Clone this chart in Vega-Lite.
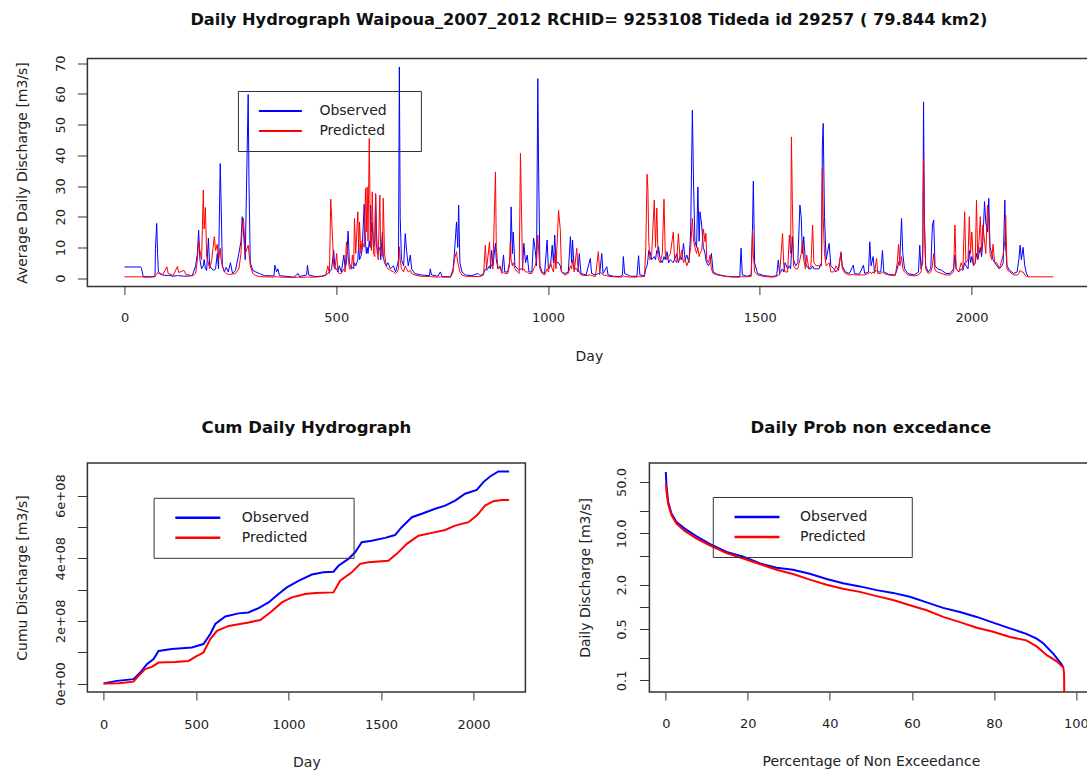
{
  "$schema": "https://vega.github.io/schema/vega-lite/v6.json",
  "background": "white",
  "padding": {"left": 14.4, "top": 11.5, "right": 0, "bottom": 0},
  "spacing": 54.5,
  "resolve": {"scale": {"color": "independent"}, "legend": {"color": "independent"}},
  "config": {
    "font": "DejaVu Sans",
    "view": {"stroke": "#333333", "strokeWidth": 1.5},
    "axis": {"grid": false, "domain": false, "ticks": true, "tickColor": "#333333", "tickWidth": 1, "labelFont": "DejaVu Sans", "labelFontSize": 13, "labelColor": "#222222", "titleFont": "DejaVu Sans", "titleFontSize": 14, "titleFontWeight": "normal", "titleColor": "#222222", "labelOverlap": false, "labelFlush": false, "labelBound": false},
    "title": {"font": "DejaVu Sans", "fontSize": 16.5, "fontWeight": "bold", "color": "#111111", "anchor": "middle"},
    "legend": {"orient": "none", "strokeColor": "#333333", "padding": 13, "symbolType": "stroke", "labelFont": "DejaVu Sans", "labelFontSize": 14, "labelColor": "#222222", "clipHeight": 14, "rowPadding": 6, "labelLimit": 300}
  },
  "vconcat": [
    {
      "width": 1003,
      "height": 228,
      "title": {"text": "Daily Hydrograph Waipoua_2007_2012  RCHID= 9253108 Tideda id 29257 ( 79.844 km2)", "offset": 26.5, "fontSize": 16.2},
      "data": {"values": [
        {"Day":0,"Observed":3.6,"Predicted":0.4},{"Day":38,"Observed":3.6,"Predicted":0.4},{"Day":40,"Observed":3.2,"Predicted":0.4},{"Day":44,"Observed":0.5,"Predicted":0.3},{"Day":60,"Observed":0.4,"Predicted":0.3},{"Day":72,"Observed":0.6,"Predicted":0.4},{"Day":73,"Observed":9.7,"Predicted":0.8},{"Day":76,"Observed":17.8,"Predicted":1.2},{"Day":78,"Observed":8,"Predicted":1.8},{"Day":80,"Observed":2,"Predicted":1.5},{"Day":90,"Observed":1,"Predicted":1},{"Day":100,"Observed":0.8,"Predicted":3.7},{"Day":103,"Observed":0.9,"Predicted":1.5},{"Day":115,"Observed":0.6,"Predicted":0.8},{"Day":125,"Observed":0.8,"Predicted":3.8},{"Day":128,"Observed":0.8,"Predicted":1.8},{"Day":140,"Observed":0.6,"Predicted":2.5},{"Day":145,"Observed":0.6,"Predicted":1.2},{"Day":160,"Observed":0.8,"Predicted":0.7},{"Day":168,"Observed":4,"Predicted":1.5},{"Day":172,"Observed":8,"Predicted":6},{"Day":175,"Observed":15.6,"Predicted":12},{"Day":178,"Observed":6,"Predicted":9},{"Day":182,"Observed":3,"Predicted":6},{"Day":186,"Observed":4,"Predicted":28.7},{"Day":188,"Observed":6,"Predicted":16},{"Day":191,"Observed":3,"Predicted":23},{"Day":194,"Observed":2.5,"Predicted":7},{"Day":198,"Observed":13,"Predicted":5},{"Day":201,"Observed":4,"Predicted":3},{"Day":206,"Observed":3,"Predicted":6},{"Day":212,"Observed":2.5,"Predicted":13.5},{"Day":215,"Observed":3,"Predicted":9},{"Day":219,"Observed":8,"Predicted":11},{"Day":222,"Observed":3,"Predicted":6},{"Day":226,"Observed":37.3,"Predicted":9.7},{"Day":228,"Observed":25.4,"Predicted":6},{"Day":231,"Observed":4,"Predicted":4},{"Day":236,"Observed":2,"Predicted":2},{"Day":240,"Observed":3.5,"Predicted":1.5},{"Day":245,"Observed":2,"Predicted":1.2},{"Day":250,"Observed":5,"Predicted":1.2},{"Day":255,"Observed":1.5,"Predicted":1.3},{"Day":262,"Observed":2.5,"Predicted":1.5},{"Day":270,"Observed":8,"Predicted":3},{"Day":275,"Observed":12,"Predicted":8},{"Day":278,"Observed":20,"Predicted":17},{"Day":281,"Observed":15,"Predicted":19.4},{"Day":285,"Observed":6,"Predicted":8},{"Day":292,"Observed":59.8,"Predicted":10.7},{"Day":294,"Observed":30,"Predicted":8},{"Day":297,"Observed":5,"Predicted":4},{"Day":303,"Observed":2.5,"Predicted":1.5},{"Day":310,"Observed":2,"Predicted":0.8},{"Day":318,"Observed":1.5,"Predicted":0.5},{"Day":330,"Observed":0.8,"Predicted":0.4},{"Day":353,"Observed":0.7,"Predicted":0.3},{"Day":355,"Observed":4.2,"Predicted":0.5},{"Day":359,"Observed":2,"Predicted":0.4},{"Day":362,"Observed":3,"Predicted":0.4},{"Day":366,"Observed":0.8,"Predicted":0.3},{"Day":400,"Observed":0.3,"Predicted":0.2},{"Day":410,"Observed":1.5,"Predicted":0.3},{"Day":413,"Observed":0.5,"Predicted":0.2},{"Day":430,"Observed":1,"Predicted":0.3},{"Day":432,"Observed":4.2,"Predicted":0.4},{"Day":435,"Observed":1,"Predicted":0.3},{"Day":450,"Observed":0.5,"Predicted":0.3},{"Day":465,"Observed":0.6,"Predicted":0.5},{"Day":475,"Observed":1,"Predicted":0.8},{"Day":480,"Observed":1.5,"Predicted":4},{"Day":484,"Observed":2,"Predicted":1.5},{"Day":487,"Observed":2.5,"Predicted":25.7},{"Day":489,"Observed":3,"Predicted":20},{"Day":494,"Observed":9,"Predicted":4},{"Day":497,"Observed":3,"Predicted":3},{"Day":501,"Observed":3,"Predicted":8},{"Day":504,"Observed":2,"Predicted":2},{"Day":507,"Observed":4,"Predicted":1.5},{"Day":512,"Observed":2,"Predicted":1.5},{"Day":518,"Observed":7.5,"Predicted":3},{"Day":521,"Observed":3,"Predicted":2},{"Day":524,"Observed":5,"Predicted":11.8},{"Day":528,"Observed":15.3,"Predicted":7},{"Day":531,"Observed":5,"Predicted":3},{"Day":536,"Observed":3,"Predicted":3},{"Day":538,"Observed":3.5,"Predicted":7.5},{"Day":541,"Observed":3,"Predicted":4},{"Day":543,"Observed":5,"Predicted":19.4},{"Day":546,"Observed":4,"Predicted":8},{"Day":551,"Observed":6,"Predicted":21.6},{"Day":553,"Observed":11,"Predicted":9},{"Day":555,"Observed":6,"Predicted":18.3},{"Day":558,"Observed":7,"Predicted":8},{"Day":561,"Observed":9,"Predicted":12},{"Day":566,"Observed":24,"Predicted":10},{"Day":569,"Observed":12,"Predicted":29.2},{"Day":571,"Observed":8,"Predicted":15},{"Day":573,"Observed":10,"Predicted":29.7},{"Day":575,"Observed":8,"Predicted":12},{"Day":578,"Observed":12,"Predicted":45.5},{"Day":580,"Observed":10,"Predicted":20},{"Day":581,"Observed":23.8,"Predicted":12},{"Day":583,"Observed":15,"Predicted":9},{"Day":585,"Observed":18,"Predicted":28.1},{"Day":588,"Observed":10,"Predicted":8},{"Day":591,"Observed":12,"Predicted":7},{"Day":593,"Observed":27,"Predicted":27.6},{"Day":595,"Observed":15,"Predicted":10},{"Day":597,"Observed":8,"Predicted":9},{"Day":599,"Observed":9,"Predicted":6},{"Day":603,"Observed":10,"Predicted":27},{"Day":605,"Observed":6,"Predicted":8},{"Day":609,"Observed":15,"Predicted":7},{"Day":611,"Observed":7,"Predicted":26},{"Day":614,"Observed":5,"Predicted":8},{"Day":618,"Observed":4,"Predicted":4},{"Day":622,"Observed":5,"Predicted":3},{"Day":628,"Observed":3,"Predicted":2.5},{"Day":635,"Observed":4,"Predicted":2},{"Day":640,"Observed":2,"Predicted":1.5},{"Day":644,"Observed":4,"Predicted":2},{"Day":647,"Observed":6,"Predicted":3},{"Day":649,"Observed":68.8,"Predicted":10.2},{"Day":651,"Observed":20,"Predicted":6},{"Day":654,"Observed":6,"Predicted":3},{"Day":659,"Observed":4,"Predicted":2},{"Day":663,"Observed":14.5,"Predicted":4},{"Day":666,"Observed":9,"Predicted":3},{"Day":670,"Observed":4,"Predicted":2},{"Day":675,"Observed":7.5,"Predicted":2.5},{"Day":678,"Observed":3,"Predicted":1.5},{"Day":685,"Observed":1.5,"Predicted":1},{"Day":700,"Observed":1,"Predicted":0.6},{"Day":720,"Observed":0.8,"Predicted":0.5},{"Day":722,"Observed":3,"Predicted":0.5},{"Day":725,"Observed":1,"Predicted":0.4},{"Day":740,"Observed":0.6,"Predicted":0.3},{"Day":746,"Observed":2,"Predicted":0.4},{"Day":750,"Observed":0.5,"Predicted":0.3},{"Day":770,"Observed":0.4,"Predicted":0.3},{"Day":776,"Observed":3,"Predicted":2},{"Day":779,"Observed":8,"Predicted":6},{"Day":784,"Observed":18.3,"Predicted":8.6},{"Day":787,"Observed":10,"Predicted":5},{"Day":789,"Observed":23.8,"Predicted":4},{"Day":792,"Observed":5,"Predicted":2},{"Day":797,"Observed":2,"Predicted":1},{"Day":805,"Observed":1,"Predicted":0.6},{"Day":820,"Observed":0.8,"Predicted":0.5},{"Day":835,"Observed":1.5,"Predicted":0.5},{"Day":840,"Observed":0.8,"Predicted":0.5},{"Day":848,"Observed":1.5,"Predicted":1},{"Day":852,"Observed":3,"Predicted":10.7},{"Day":855,"Observed":2.5,"Predicted":3},{"Day":862,"Observed":4,"Predicted":11.8},{"Day":864,"Observed":3,"Predicted":5},{"Day":867,"Observed":9,"Predicted":4},{"Day":870,"Observed":4,"Predicted":3},{"Day":876,"Observed":11.3,"Predicted":34.6},{"Day":878,"Observed":6,"Predicted":10},{"Day":882,"Observed":3,"Predicted":3},{"Day":887,"Observed":3.5,"Predicted":4},{"Day":891,"Observed":2,"Predicted":1.5},{"Day":895,"Observed":7.5,"Predicted":2},{"Day":898,"Observed":2,"Predicted":1.5},{"Day":905,"Observed":2,"Predicted":1.5},{"Day":909,"Observed":5,"Predicted":4},{"Day":911,"Observed":8,"Predicted":11.8},{"Day":913,"Observed":23.2,"Predicted":6},{"Day":916,"Observed":8,"Predicted":4},{"Day":918,"Observed":15,"Predicted":5},{"Day":922,"Observed":4,"Predicted":3},{"Day":928,"Observed":3,"Predicted":2},{"Day":932,"Observed":2.5,"Predicted":1.5},{"Day":935,"Observed":3,"Predicted":40.6},{"Day":937,"Observed":3,"Predicted":26},{"Day":940,"Observed":3,"Predicted":2.5},{"Day":943,"Observed":11.3,"Predicted":3},{"Day":947,"Observed":5,"Predicted":2},{"Day":951,"Observed":7.5,"Predicted":2},{"Day":955,"Observed":2,"Predicted":1.5},{"Day":962,"Observed":2,"Predicted":1.5},{"Day":966,"Observed":13,"Predicted":3},{"Day":970,"Observed":9,"Predicted":4},{"Day":973,"Observed":4,"Predicted":6},{"Day":976,"Observed":65,"Predicted":14},{"Day":978,"Observed":34,"Predicted":9},{"Day":981,"Observed":4,"Predicted":3},{"Day":986,"Observed":2,"Predicted":1.5},{"Day":992,"Observed":1.5,"Predicted":1},{"Day":998,"Observed":12.4,"Predicted":3},{"Day":1001,"Observed":3,"Predicted":2},{"Day":1006,"Observed":4,"Predicted":5},{"Day":1010,"Observed":10.7,"Predicted":3},{"Day":1013,"Observed":5,"Predicted":2},{"Day":1016,"Observed":14,"Predicted":8},{"Day":1019,"Observed":5,"Predicted":3},{"Day":1025,"Observed":5,"Predicted":22.1},{"Day":1029,"Observed":4,"Predicted":16},{"Day":1032,"Observed":2,"Predicted":2},{"Day":1040,"Observed":1.5,"Predicted":1},{"Day":1048,"Observed":2,"Predicted":1.5},{"Day":1053,"Observed":13.5,"Predicted":4},{"Day":1056,"Observed":5,"Predicted":3},{"Day":1058,"Observed":12.4,"Predicted":6},{"Day":1062,"Observed":3,"Predicted":2},{"Day":1068,"Observed":3,"Predicted":9.7},{"Day":1071,"Observed":2,"Predicted":3},{"Day":1074,"Observed":8,"Predicted":2},{"Day":1078,"Observed":1.5,"Predicted":1},{"Day":1090,"Observed":1,"Predicted":0.8},{"Day":1100,"Observed":6.4,"Predicted":1},{"Day":1103,"Observed":1.5,"Predicted":0.8},{"Day":1112,"Observed":1,"Predicted":0.5},{"Day":1119,"Observed":1.5,"Predicted":8.6},{"Day":1122,"Observed":1.2,"Predicted":2},{"Day":1127,"Observed":8,"Predicted":1.5},{"Day":1130,"Observed":1.5,"Predicted":1},{"Day":1139,"Observed":3.7,"Predicted":0.8},{"Day":1142,"Observed":1,"Predicted":0.6},{"Day":1155,"Observed":0.6,"Predicted":0.4},{"Day":1170,"Observed":0.5,"Predicted":0.3},{"Day":1176,"Observed":1,"Predicted":0.4},{"Day":1178,"Observed":7,"Predicted":0.8},{"Day":1181,"Observed":1.5,"Predicted":0.5},{"Day":1195,"Observed":0.6,"Predicted":0.3},{"Day":1210,"Observed":0.6,"Predicted":0.3},{"Day":1214,"Observed":7.3,"Predicted":0.6},{"Day":1217,"Observed":1,"Predicted":0.4},{"Day":1228,"Observed":0.8,"Predicted":0.5},{"Day":1231,"Observed":3,"Predicted":10},{"Day":1234,"Observed":4,"Predicted":33.8},{"Day":1236,"Observed":6,"Predicted":29},{"Day":1238,"Observed":9,"Predicted":12},{"Day":1241,"Observed":8.6,"Predicted":6},{"Day":1245,"Observed":6,"Predicted":8},{"Day":1251,"Observed":7,"Predicted":25.4},{"Day":1254,"Observed":6,"Predicted":10},{"Day":1257,"Observed":9,"Predicted":22.8},{"Day":1260,"Observed":8,"Predicted":7},{"Day":1261,"Observed":10.2,"Predicted":6},{"Day":1265,"Observed":6,"Predicted":5},{"Day":1270,"Observed":5,"Predicted":8},{"Day":1274,"Observed":7,"Predicted":25.7},{"Day":1277,"Observed":6,"Predicted":8},{"Day":1281,"Observed":8.6,"Predicted":6},{"Day":1285,"Observed":5,"Predicted":7},{"Day":1289,"Observed":6,"Predicted":8},{"Day":1296,"Observed":5,"Predicted":15},{"Day":1299,"Observed":6,"Predicted":6},{"Day":1304,"Observed":8,"Predicted":5},{"Day":1308,"Observed":5,"Predicted":14.5},{"Day":1312,"Observed":7,"Predicted":6},{"Day":1316,"Observed":6,"Predicted":9},{"Day":1320,"Observed":11.3,"Predicted":5},{"Day":1324,"Observed":6,"Predicted":6},{"Day":1328,"Observed":7.5,"Predicted":4},{"Day":1333,"Observed":5,"Predicted":6},{"Day":1337,"Observed":15,"Predicted":10},{"Day":1341,"Observed":54.7,"Predicted":19.4},{"Day":1344,"Observed":29.7,"Predicted":12},{"Day":1347,"Observed":12,"Predicted":10},{"Day":1351,"Observed":10,"Predicted":8},{"Day":1354,"Observed":29.7,"Predicted":10},{"Day":1357,"Observed":12,"Predicted":7},{"Day":1359,"Observed":21.6,"Predicted":8},{"Day":1363,"Observed":17.3,"Predicted":9},{"Day":1367,"Observed":10,"Predicted":16},{"Day":1371,"Observed":8,"Predicted":11.8},{"Day":1373,"Observed":6,"Predicted":14.6},{"Day":1375,"Observed":5,"Predicted":6},{"Day":1379,"Observed":4,"Predicted":5},{"Day":1383,"Observed":5,"Predicted":7.5},{"Day":1386,"Observed":8,"Predicted":3},{"Day":1390,"Observed":2,"Predicted":1.5},{"Day":1400,"Observed":1.2,"Predicted":1},{"Day":1420,"Observed":0.6,"Predicted":0.5},{"Day":1440,"Observed":0.4,"Predicted":0.3},{"Day":1453,"Observed":0.5,"Predicted":0.3},{"Day":1456,"Observed":9.7,"Predicted":0.5},{"Day":1459,"Observed":1,"Predicted":0.4},{"Day":1470,"Observed":0.6,"Predicted":0.4},{"Day":1480,"Observed":1,"Predicted":0.6},{"Day":1483,"Observed":16,"Predicted":15.6},{"Day":1485,"Observed":31.6,"Predicted":8},{"Day":1488,"Observed":5,"Predicted":2},{"Day":1495,"Observed":1.5,"Predicted":1},{"Day":1510,"Observed":0.8,"Predicted":0.5},{"Day":1530,"Observed":0.5,"Predicted":0.3},{"Day":1540,"Observed":0.8,"Predicted":0.5},{"Day":1544,"Observed":5.9,"Predicted":1},{"Day":1547,"Observed":1.5,"Predicted":1},{"Day":1554,"Observed":3,"Predicted":14.5},{"Day":1557,"Observed":2,"Predicted":4},{"Day":1560,"Observed":5,"Predicted":2},{"Day":1566,"Observed":3,"Predicted":2},{"Day":1570,"Observed":4,"Predicted":14},{"Day":1573,"Observed":3,"Predicted":8},{"Day":1575,"Observed":8,"Predicted":46},{"Day":1577,"Observed":13.5,"Predicted":26},{"Day":1580,"Observed":6,"Predicted":4},{"Day":1585,"Observed":4,"Predicted":3},{"Day":1590,"Observed":5,"Predicted":3},{"Day":1595,"Observed":23.8,"Predicted":6},{"Day":1598,"Observed":20,"Predicted":8},{"Day":1601,"Observed":8,"Predicted":12},{"Day":1604,"Observed":13.5,"Predicted":6},{"Day":1608,"Observed":5,"Predicted":3},{"Day":1611,"Observed":4,"Predicted":7.5},{"Day":1616,"Observed":3,"Predicted":3},{"Day":1621,"Observed":3,"Predicted":4},{"Day":1625,"Observed":4,"Predicted":17.3},{"Day":1628,"Observed":3,"Predicted":5},{"Day":1634,"Observed":3,"Predicted":4},{"Day":1640,"Observed":3,"Predicted":4},{"Day":1646,"Observed":5,"Predicted":4},{"Day":1648,"Observed":43.3,"Predicted":35.7},{"Day":1650,"Observed":50.4,"Predicted":20},{"Day":1653,"Observed":20,"Predicted":8},{"Day":1657,"Observed":6,"Predicted":4},{"Day":1664,"Observed":11.3,"Predicted":5},{"Day":1668,"Observed":4,"Predicted":2},{"Day":1675,"Observed":3,"Predicted":2},{"Day":1680,"Observed":2,"Predicted":4},{"Day":1686,"Observed":3,"Predicted":2.5},{"Day":1692,"Observed":8,"Predicted":8.6},{"Day":1695,"Observed":4,"Predicted":3},{"Day":1702,"Observed":2,"Predicted":1.5},{"Day":1712,"Observed":1.5,"Predicted":1},{"Day":1721,"Observed":4.2,"Predicted":1.2},{"Day":1724,"Observed":1.5,"Predicted":1},{"Day":1735,"Observed":1.2,"Predicted":1},{"Day":1745,"Observed":4.2,"Predicted":1},{"Day":1748,"Observed":1.5,"Predicted":1},{"Day":1757,"Observed":2,"Predicted":1.5},{"Day":1760,"Observed":11.8,"Predicted":2},{"Day":1763,"Observed":4,"Predicted":1.5},{"Day":1768,"Observed":7,"Predicted":2},{"Day":1771,"Observed":2,"Predicted":1.5},{"Day":1776,"Observed":2.5,"Predicted":6.4},{"Day":1779,"Observed":2,"Predicted":1.5},{"Day":1786,"Observed":2,"Predicted":1.5},{"Day":1790,"Observed":9,"Predicted":2},{"Day":1793,"Observed":2,"Predicted":1.5},{"Day":1805,"Observed":1.2,"Predicted":1},{"Day":1820,"Observed":1,"Predicted":0.8},{"Day":1825,"Observed":3,"Predicted":5},{"Day":1828,"Observed":5,"Predicted":11},{"Day":1831,"Observed":6,"Predicted":4},{"Day":1835,"Observed":19.4,"Predicted":7},{"Day":1838,"Observed":8,"Predicted":3},{"Day":1842,"Observed":3,"Predicted":2},{"Day":1850,"Observed":1.5,"Predicted":1},{"Day":1865,"Observed":1,"Predicted":0.7},{"Day":1875,"Observed":2,"Predicted":1},{"Day":1878,"Observed":10.7,"Predicted":1.5},{"Day":1881,"Observed":3,"Predicted":2},{"Day":1885,"Observed":5,"Predicted":8},{"Day":1887,"Observed":57.4,"Predicted":39},{"Day":1889,"Observed":18.3,"Predicted":18.3},{"Day":1892,"Observed":4,"Predicted":3},{"Day":1898,"Observed":2,"Predicted":1.5},{"Day":1904,"Observed":3,"Predicted":2},{"Day":1908,"Observed":17.3,"Predicted":4},{"Day":1911,"Observed":18.9,"Predicted":8},{"Day":1914,"Observed":4,"Predicted":2.5},{"Day":1920,"Observed":3,"Predicted":2},{"Day":1930,"Observed":2.5,"Predicted":1.5},{"Day":1940,"Observed":1.5,"Predicted":1},{"Day":1950,"Observed":1.5,"Predicted":1},{"Day":1958,"Observed":3,"Predicted":2},{"Day":1961,"Observed":7.5,"Predicted":17.3},{"Day":1964,"Observed":3,"Predicted":3},{"Day":1970,"Observed":2,"Predicted":2},{"Day":1976,"Observed":3,"Predicted":5},{"Day":1980,"Observed":2.5,"Predicted":3},{"Day":1984,"Observed":5,"Predicted":21.6},{"Day":1987,"Observed":4,"Predicted":5},{"Day":1992,"Observed":3,"Predicted":6},{"Day":1995,"Observed":9,"Predicted":20},{"Day":1998,"Observed":5,"Predicted":8},{"Day":2001,"Observed":7,"Predicted":15},{"Day":2005,"Observed":4,"Predicted":4},{"Day":2009,"Observed":5,"Predicted":5},{"Day":2012,"Observed":8,"Predicted":25.4},{"Day":2015,"Observed":6,"Predicted":6},{"Day":2018,"Observed":8,"Predicted":12},{"Day":2021,"Observed":10,"Predicted":20},{"Day":2024,"Observed":7,"Predicted":8},{"Day":2027,"Observed":12,"Predicted":17.3},{"Day":2031,"Observed":24.9,"Predicted":12},{"Day":2034,"Observed":18,"Predicted":8},{"Day":2038,"Observed":15,"Predicted":23.8},{"Day":2041,"Observed":26,"Predicted":18},{"Day":2044,"Observed":10,"Predicted":8},{"Day":2048,"Observed":8,"Predicted":6},{"Day":2051,"Observed":6,"Predicted":11},{"Day":2055,"Observed":5,"Predicted":5},{"Day":2060,"Observed":4,"Predicted":5},{"Day":2066,"Observed":3,"Predicted":3},{"Day":2072,"Observed":4,"Predicted":6},{"Day":2075,"Observed":5,"Predicted":7.5},{"Day":2079,"Observed":25.4,"Predicted":12},{"Day":2081,"Observed":10,"Predicted":20.5},{"Day":2084,"Observed":4,"Predicted":3},{"Day":2090,"Observed":2.5,"Predicted":2},{"Day":2100,"Observed":1.5,"Predicted":1},{"Day":2108,"Observed":2,"Predicted":1},{"Day":2112,"Observed":6,"Predicted":1.5},{"Day":2115,"Observed":10.7,"Predicted":2.5},{"Day":2118,"Observed":6,"Predicted":2},{"Day":2122,"Observed":10,"Predicted":2},{"Day":2126,"Observed":4,"Predicted":1},{"Day":2130,"Observed":1.5,"Predicted":0.6},{"Day":2134,"Observed":0.5,"Predicted":0.4},{"Day":2140,"Observed":null,"Predicted":0.4},{"Day":2193,"Observed":null,"Predicted":0.4}
      ]},
      "transform": [{"fold": ["Observed", "Predicted"], "as": ["Series", "Q"]}],
      "mark": {"type": "line", "strokeWidth": 1, "clip": true},
      "encoding": {
        "x": {"field": "Day", "type": "quantitative", "scale": {"domain": [-87.7, 2281], "nice": false, "zero": false},
          "axis": {"values": [0, 500, 1000, 1500, 2000], "format": "d", "title": "Day", "tickSize": 8, "labelPadding": 27, "labelBaseline": "alphabetic", "titleBaseline": "alphabetic", "titleY": 73.5}},
        "y": {"field": "Q", "type": "quantitative", "scale": {"domain": [-2.75, 71.55], "nice": false, "zero": false},
          "axis": {"values": [0, 10, 20, 30, 40, 50, 60, 70], "title": "Average Daily Discharge [m3/s]", "tickSize": 10, "labelPadding": 12.4, "labelAngle": -90, "labelAlign": "center", "labelBaseline": "alphabetic", "titleAngle": -90, "titleBaseline": "alphabetic", "titleX": -60.7}},
        "color": {"field": "Series", "type": "nominal", "scale": {"domain": ["Observed", "Predicted"], "range": ["#0000FF", "#FF0000"]},
          "legend": {"title": null, "legendX": 150.5, "legendY": 32.5, "symbolSize": 1849, "symbolOffset": 7, "labelOffset": 16.5, "symbolStrokeWidth": 2,
            "labelExpr": "datum.label + '\u2800\u2800'"}}
      }
    },
    {
      "spacing": 50,
      "align": "none",
      "resolve": {"scale": {"color": "independent"}, "legend": {"color": "independent"}},
      "hconcat": [
        {
          "width": 438,
          "height": 229,
          "title": {"text": "Cum Daily Hydrograph", "offset": 26.5},
          "data": {"values": [
            {"Day":0,"Series":"Observed","V":0},{"Day":72,"Series":"Observed","V":8500000},{"Day":162,"Series":"Observed","V":14000000},{"Day":198,"Series":"Observed","V":35000000},{"Day":234,"Series":"Observed","V":62000000},{"Day":270,"Series":"Observed","V":78000000},{"Day":297,"Series":"Observed","V":104000000},{"Day":369,"Series":"Observed","V":110000000},{"Day":477,"Series":"Observed","V":115000000},{"Day":540,"Series":"Observed","V":126000000},{"Day":577,"Series":"Observed","V":158000000},{"Day":604,"Series":"Observed","V":190000000},{"Day":658,"Series":"Observed","V":214000000},{"Day":730,"Series":"Observed","V":224000000},{"Day":784,"Series":"Observed","V":227000000},{"Day":838,"Series":"Observed","V":241000000},{"Day":892,"Series":"Observed","V":259000000},{"Day":946,"Series":"Observed","V":286000000},{"Day":991,"Series":"Observed","V":307000000},{"Day":1054,"Series":"Observed","V":328000000},{"Day":1126,"Series":"Observed","V":348000000},{"Day":1189,"Series":"Observed","V":355000000},{"Day":1243,"Series":"Observed","V":357000000},{"Day":1270,"Series":"Observed","V":376000000},{"Day":1324,"Series":"Observed","V":398000000},{"Day":1360,"Series":"Observed","V":419000000},{"Day":1396,"Series":"Observed","V":451000000},{"Day":1450,"Series":"Observed","V":456000000},{"Day":1522,"Series":"Observed","V":465000000},{"Day":1576,"Series":"Observed","V":474000000},{"Day":1612,"Series":"Observed","V":499000000},{"Day":1667,"Series":"Observed","V":531000000},{"Day":1721,"Series":"Observed","V":542000000},{"Day":1793,"Series":"Observed","V":558000000},{"Day":1847,"Series":"Observed","V":568000000},{"Day":1901,"Series":"Observed","V":584000000},{"Day":1955,"Series":"Observed","V":606000000},{"Day":2018,"Series":"Observed","V":618000000},{"Day":2054,"Series":"Observed","V":643000000},{"Day":2090,"Series":"Observed","V":661000000},{"Day":2135,"Series":"Observed","V":677000000},{"Day":2193,"Series":"Observed","V":677000000},
            {"Day":0,"Series":"Predicted","V":0},{"Day":81,"Series":"Predicted","V":1000000},{"Day":162,"Series":"Predicted","V":6000000},{"Day":189,"Series":"Predicted","V":25000000},{"Day":225,"Series":"Predicted","V":46000000},{"Day":261,"Series":"Predicted","V":53000000},{"Day":297,"Series":"Predicted","V":67000000},{"Day":387,"Series":"Predicted","V":69000000},{"Day":459,"Series":"Predicted","V":72000000},{"Day":505,"Series":"Predicted","V":88000000},{"Day":540,"Series":"Predicted","V":99000000},{"Day":577,"Series":"Predicted","V":142000000},{"Day":613,"Series":"Predicted","V":168000000},{"Day":676,"Series":"Predicted","V":184000000},{"Day":784,"Series":"Predicted","V":195000000},{"Day":847,"Series":"Predicted","V":203000000},{"Day":901,"Series":"Predicted","V":227000000},{"Day":964,"Series":"Predicted","V":259000000},{"Day":1018,"Series":"Predicted","V":275000000},{"Day":1090,"Series":"Predicted","V":286000000},{"Day":1144,"Series":"Predicted","V":289000000},{"Day":1243,"Series":"Predicted","V":291000000},{"Day":1279,"Series":"Predicted","V":328000000},{"Day":1342,"Series":"Predicted","V":355000000},{"Day":1387,"Series":"Predicted","V":382000000},{"Day":1432,"Series":"Predicted","V":387000000},{"Day":1540,"Series":"Predicted","V":392000000},{"Day":1585,"Series":"Predicted","V":414000000},{"Day":1640,"Series":"Predicted","V":446000000},{"Day":1703,"Series":"Predicted","V":472000000},{"Day":1775,"Series":"Predicted","V":481000000},{"Day":1847,"Series":"Predicted","V":490000000},{"Day":1901,"Series":"Predicted","V":504000000},{"Day":1973,"Series":"Predicted","V":515000000},{"Day":2018,"Series":"Predicted","V":536000000},{"Day":2063,"Series":"Predicted","V":568000000},{"Day":2108,"Series":"Predicted","V":582000000},{"Day":2153,"Series":"Predicted","V":586000000},{"Day":2193,"Series":"Predicted","V":586000000}
          ]},
          "mark": {"type": "line", "strokeWidth": 2, "clip": true},
          "encoding": {
            "x": {"field": "Day", "type": "quantitative", "scale": {"domain": [-87.7, 2281], "nice": false, "zero": false},
              "axis": {"values": [0, 500, 1000, 1500, 2000], "format": "d", "title": "Day", "tickSize": 8, "labelPadding": 28.5, "labelBaseline": "alphabetic", "titleBaseline": "alphabetic", "titleY": 74.5}},
            "y": {"field": "V", "type": "quantitative", "scale": {"domain": [-27000000, 704000000], "nice": false, "zero": false},
              "axis": {"values": [0, 100000000, 200000000, 300000000, 400000000, 500000000, 600000000], "labelExpr": "datum.value == 0 ? '0e+00' : datum.value == 200000000 ? '2e+08' : datum.value == 400000000 ? '4e+08' : datum.value == 600000000 ? '6e+08' : ''", "title": "Cumu Discharge [m3/s]", "tickSize": 10, "labelPadding": 12.6, "labelAngle": -90, "labelAlign": "center", "labelBaseline": "alphabetic", "titleAngle": -90, "titleBaseline": "alphabetic", "titleX": -61}},
            "color": {"field": "Series", "type": "nominal", "scale": {"domain": ["Observed", "Predicted"], "range": ["#0000FF", "#FF0000"]},
              "legend": {"title": null, "legendX": 66.2, "legendY": 34.8, "symbolSize": 2025, "symbolOffset": 7.2, "labelOffset": 20, "symbolStrokeWidth": 2.5,
                "labelExpr": "datum.label + '\u2800\u2800\u2800'"}}
          }
        },
        {
          "width": 443,
          "height": 229,
          "title": {"text": "Daily Prob non excedance", "offset": 26.5},
          "data": {"values": [
            {"Pct":0,"Series":"Observed","Q":68.4},{"Pct":0.16,"Series":"Observed","Q":45},{"Pct":0.57,"Series":"Observed","Q":26.7},{"Pct":1.38,"Series":"Observed","Q":18.6},{"Pct":2.6,"Series":"Observed","Q":14.3},{"Pct":4.6,"Series":"Observed","Q":11.6},{"Pct":7.5,"Series":"Observed","Q":9.1},{"Pct":10.7,"Series":"Observed","Q":7.2},{"Pct":14.8,"Series":"Observed","Q":5.6},{"Pct":18.9,"Series":"Observed","Q":4.8},{"Pct":23,"Series":"Observed","Q":3.9},{"Pct":27,"Series":"Observed","Q":3.4},{"Pct":31,"Series":"Observed","Q":3.2},{"Pct":35.1,"Series":"Observed","Q":2.82},{"Pct":39.2,"Series":"Observed","Q":2.4},{"Pct":43.2,"Series":"Observed","Q":2.1},{"Pct":47.3,"Series":"Observed","Q":1.9},{"Pct":51.4,"Series":"Observed","Q":1.69},{"Pct":55.4,"Series":"Observed","Q":1.55},{"Pct":59.5,"Series":"Observed","Q":1.37},{"Pct":63.6,"Series":"Observed","Q":1.15},{"Pct":67.6,"Series":"Observed","Q":0.97},{"Pct":71.7,"Series":"Observed","Q":0.85},{"Pct":75.8,"Series":"Observed","Q":0.73},{"Pct":79.8,"Series":"Observed","Q":0.61},{"Pct":83.9,"Series":"Observed","Q":0.51},{"Pct":87.9,"Series":"Observed","Q":0.43},{"Pct":90.4,"Series":"Observed","Q":0.37},{"Pct":92,"Series":"Observed","Q":0.32},{"Pct":94.5,"Series":"Observed","Q":0.23},{"Pct":96.5,"Series":"Observed","Q":0.165},{"Pct":96.9,"Series":"Observed","Q":0.15},
            {"Pct":0,"Series":"Predicted","Q":47.4},{"Pct":0.16,"Series":"Predicted","Q":38.5},{"Pct":0.57,"Series":"Predicted","Q":25.3},{"Pct":1.38,"Series":"Predicted","Q":17.7},{"Pct":2.6,"Series":"Predicted","Q":13.6},{"Pct":4.6,"Series":"Predicted","Q":10.8},{"Pct":7.5,"Series":"Predicted","Q":8.5},{"Pct":10.7,"Series":"Predicted","Q":6.9},{"Pct":14.8,"Series":"Predicted","Q":5.4},{"Pct":18.9,"Series":"Predicted","Q":4.55},{"Pct":23,"Series":"Predicted","Q":3.8},{"Pct":27,"Series":"Predicted","Q":3.2},{"Pct":31,"Series":"Predicted","Q":2.8},{"Pct":35.1,"Series":"Predicted","Q":2.35},{"Pct":39.2,"Series":"Predicted","Q":2.0},{"Pct":43.2,"Series":"Predicted","Q":1.77},{"Pct":47.3,"Series":"Predicted","Q":1.6},{"Pct":51.4,"Series":"Predicted","Q":1.4},{"Pct":55.4,"Series":"Predicted","Q":1.24},{"Pct":59.5,"Series":"Predicted","Q":1.05},{"Pct":63.6,"Series":"Predicted","Q":0.9},{"Pct":67.6,"Series":"Predicted","Q":0.73},{"Pct":71.7,"Series":"Predicted","Q":0.62},{"Pct":75.8,"Series":"Predicted","Q":0.52},{"Pct":79.8,"Series":"Predicted","Q":0.46},{"Pct":83.9,"Series":"Predicted","Q":0.39},{"Pct":87.9,"Series":"Predicted","Q":0.35},{"Pct":90.4,"Series":"Predicted","Q":0.29},{"Pct":92.9,"Series":"Predicted","Q":0.22},{"Pct":95.4,"Series":"Predicted","Q":0.18},{"Pct":96.9,"Series":"Predicted","Q":0.15},{"Pct":97.1,"Series":"Predicted","Q":0.125},{"Pct":97.2,"Series":"Predicted","Q":0.03}
          ]},
          "mark": {"type": "line", "strokeWidth": 2, "clip": true},
          "encoding": {
            "x": {"field": "Pct", "type": "quantitative", "scale": {"domain": [-4, 104], "nice": false, "zero": false},
              "axis": {"values": [0, 20, 40, 60, 80, 100], "format": "d", "title": "Percentage of Non Exceedance", "tickSize": 8, "labelPadding": 27.7, "labelBaseline": "alphabetic", "titleBaseline": "alphabetic", "titleY": 73.2}},
            "y": {"field": "Q", "type": "quantitative", "scale": {"type": "log", "domain": [0.0695, 90.7], "nice": false, "zero": false},
              "axis": {"values": [0.1, 0.2, 0.5, 1, 2, 5, 10, 20, 50], "labelExpr": "indexof([0.2, 1, 5, 20], datum.value) >= 0 ? '' : format(datum.value, '.1f')", "title": "Daily Discharge [m3/s]", "tickSize": 10, "labelPadding": 14, "labelAngle": -90, "labelAlign": "center", "labelBaseline": "alphabetic", "titleAngle": -90, "titleBaseline": "alphabetic", "titleX": -60.3}},
            "color": {"field": "Series", "type": "nominal", "scale": {"domain": ["Observed", "Predicted"], "range": ["#0000FF", "#FF0000"]},
              "legend": {"title": null, "legendX": 63.4, "legendY": 34, "symbolSize": 2025, "symbolOffset": 7.2, "labelOffset": 19, "symbolStrokeWidth": 2.5,
                "labelExpr": "datum.label + '\u2800\u2800\u2800'"}}
          }
        }
      ]
    }
  ]
}
